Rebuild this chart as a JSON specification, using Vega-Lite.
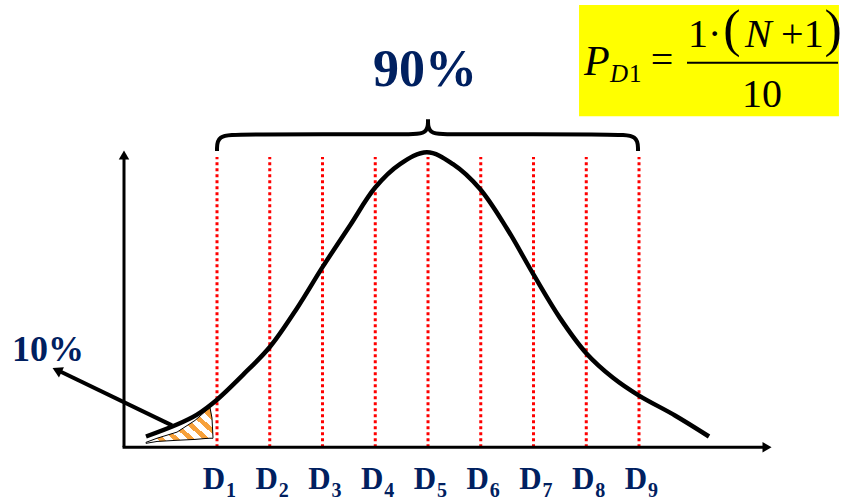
{
  "$schema": "https://vega.github.io/schema/vega-lite/v6.json",
  "width": 842,
  "height": 501,
  "autosize": {"type": "fit", "contains": "padding"},
  "padding": 0,
  "background": "white",
  "config": {"view": {"stroke": null}, "text": {"font": "Liberation Serif, Times New Roman, serif"}},
  "encoding": {
    "x": {"field": "x", "type": "quantitative", "scale": {"domain": [-3.1137, 12.848], "nice": false, "zero": false}, "axis": null},
    "y": {"field": "y", "type": "quantitative", "scale": {"domain": [-0.17347, 1.5306], "nice": false, "zero": false}, "axis": null}
  },
  "layer": [
    {
      "data": {"values": [{"x": 7.863, "x2": 12.79, "y": 1.5136, "y2": 1.1327}]},
      "mark": {"type": "rect", "color": "#FFFF00"},
      "encoding": {"x2": {"field": "x2"}, "y2": {"field": "y2"}}
    },
    {
      "data": {"values": [
        {"x": -0.346, "y": 0.017, "y2": 0.0136},
        {"x": -0.137, "y": 0.031, "y2": 0.020},
        {"x": 0.242, "y": 0.052, "y2": 0.024},
        {"x": 0.583, "y": 0.092, "y2": 0.027},
        {"x": 0.773, "y": 0.122, "y2": 0.030},
        {"x": 0.867, "y": 0.136, "y2": 0.031},
        {"x": 0.905, "y": 0.100, "y2": 0.031},
        {"x": 0.924, "y": 0.034, "y2": 0.031}
      ]},
      "mark": {
        "type": "area",
        "stroke": "black",
        "strokeWidth": 1,
        "fillOpacity": 1,
        "fill": {
          "gradient": "linear", "x1": 0, "y1": 0.8, "x2": 1, "y2": 0.2,
          "stops": [
            {"offset": 0, "color": "#FFFFFF"}, {"offset": 0.09, "color": "#FFFFFF"},
            {"offset": 0.09, "color": "#F7A13B"}, {"offset": 0.167, "color": "#F7A13B"},
            {"offset": 0.167, "color": "#FFFFFF"}, {"offset": 0.257, "color": "#FFFFFF"},
            {"offset": 0.257, "color": "#F7A13B"}, {"offset": 0.333, "color": "#F7A13B"},
            {"offset": 0.333, "color": "#FFFFFF"}, {"offset": 0.423, "color": "#FFFFFF"},
            {"offset": 0.423, "color": "#F7A13B"}, {"offset": 0.5, "color": "#F7A13B"},
            {"offset": 0.5, "color": "#FFFFFF"}, {"offset": 0.59, "color": "#FFFFFF"},
            {"offset": 0.59, "color": "#F7A13B"}, {"offset": 0.667, "color": "#F7A13B"},
            {"offset": 0.667, "color": "#FFFFFF"}, {"offset": 0.757, "color": "#FFFFFF"},
            {"offset": 0.757, "color": "#F7A13B"}, {"offset": 0.833, "color": "#F7A13B"},
            {"offset": 0.833, "color": "#FFFFFF"}, {"offset": 0.923, "color": "#FFFFFF"},
            {"offset": 0.923, "color": "#F7A13B"}, {"offset": 1, "color": "#F7A13B"}
          ]
        }
      },
      "encoding": {"y2": {"field": "y2"}}
    },
    {
      "data": {"values": [
        {"x": 1, "y": 0, "y2": 0.993}, {"x": 2, "y": 0, "y2": 0.993}, {"x": 3, "y": 0, "y2": 0.993},
        {"x": 4, "y": 0, "y2": 0.993}, {"x": 5, "y": 0, "y2": 0.993}, {"x": 6, "y": 0, "y2": 0.993},
        {"x": 7, "y": 0, "y2": 0.993}, {"x": 8, "y": 0, "y2": 0.993}, {"x": 9, "y": 0, "y2": 0.993}
      ]},
      "mark": {"type": "rule", "color": "#FF0000", "strokeWidth": 3, "strokeDash": [3, 3]},
      "encoding": {"y2": {"field": "y2"}}
    },
    {
      "data": {"values": [
        {"x": -0.346, "y": 0.037}, {"x": 0.242, "y": 0.078}, {"x": 0.621, "y": 0.112},
        {"x": 1.0, "y": 0.163}, {"x": 1.493, "y": 0.248}, {"x": 2.005, "y": 0.344},
        {"x": 2.517, "y": 0.476}, {"x": 3.009, "y": 0.619}, {"x": 3.521, "y": 0.759},
        {"x": 3.995, "y": 0.888}, {"x": 4.469, "y": 0.969}, {"x": 4.981, "y": 1.010},
        {"x": 5.474, "y": 0.969}, {"x": 5.986, "y": 0.884}, {"x": 6.498, "y": 0.748},
        {"x": 7.010, "y": 0.588}, {"x": 7.503, "y": 0.442}, {"x": 7.995, "y": 0.323},
        {"x": 8.507, "y": 0.238}, {"x": 9.0, "y": 0.177}, {"x": 9.682, "y": 0.109},
        {"x": 10.327, "y": 0.037}
      ]},
      "mark": {"type": "line", "color": "black", "strokeWidth": 4.5, "interpolate": "catmull-rom"}
    },
    {
      "data": {"values": [
        {"x": -0.763, "y": 0, "x2": -0.763, "y2": 0.99},
        {"x": -0.79, "y": 0, "x2": 11.39, "y2": 0}
      ]},
      "mark": {"type": "rule", "color": "black", "strokeWidth": 3},
      "encoding": {"x2": {"field": "x2"}, "y2": {"field": "y2"}}
    },
    {
      "data": {"values": [{"x": -0.763, "y": 1.0}]},
      "mark": {"type": "point", "shape": "triangle-up", "filled": true, "color": "black", "size": 110, "opacity": 1}
    },
    {
      "data": {"values": [{"x": 11.427, "y": 0}]},
      "mark": {"type": "point", "shape": "triangle-right", "filled": true, "color": "black", "size": 110, "opacity": 1}
    },
    {
      "data": {"values": [
        {"x": 1.0, "y": 1.014, "g": "L", "o": 0}, {"x": 1.0, "y": 1.068, "g": "L", "o": 1},
        {"x": 1.436, "y": 1.071, "g": "L", "o": 2}, {"x": 4.564, "y": 1.071, "g": "L", "o": 3},
        {"x": 5.0, "y": 1.071, "g": "L", "o": 4}, {"x": 5.0, "y": 1.122, "g": "L", "o": 5},
        {"x": 5.0, "y": 1.122, "g": "R", "o": 0}, {"x": 5.0, "y": 1.071, "g": "R", "o": 1},
        {"x": 5.436, "y": 1.071, "g": "R", "o": 2}, {"x": 8.545, "y": 1.071, "g": "R", "o": 3},
        {"x": 8.981, "y": 1.068, "g": "R", "o": 4}, {"x": 8.981, "y": 1.014, "g": "R", "o": 5}
      ]},
      "mark": {"type": "line", "color": "black", "strokeWidth": 4, "interpolate": "basis"},
      "encoding": {"detail": {"field": "g"}, "order": {"field": "o", "type": "quantitative"}}
    },
    {
      "data": {"values": [
        {"x": 0.147, "y": 0.075, "o": 0}, {"x": -2.0, "y": 0.262, "o": 1}
      ]},
      "mark": {"type": "line", "color": "black", "strokeWidth": 4},
      "encoding": {"order": {"field": "o", "type": "quantitative"}}
    },
    {
      "data": {"values": [{"x": -2.033, "y": 0.2636}]},
      "mark": {"type": "point", "shape": "triangle-up", "angle": 296, "filled": true, "color": "black", "size": 130, "opacity": 1}
    },
    {
      "data": {"values": [{"x": 4.943, "y": 1.2347, "t": "90%"}]},
      "mark": {"type": "text", "fontWeight": "bold", "fontSize": 52, "color": "#002060", "align": "center", "baseline": "alphabetic"},
      "encoding": {"text": {"field": "t"}}
    },
    {
      "data": {"values": [{"x": -2.204, "y": 0.296, "t": "10%"}]},
      "mark": {"type": "text", "fontWeight": "bold", "fontSize": 36, "color": "#002060", "align": "center", "baseline": "alphabetic"},
      "encoding": {"text": {"field": "t"}}
    },
    {
      "data": {"values": [
        {"x": 1, "y": -0.143, "t": "D"}, {"x": 2, "y": -0.143, "t": "D"}, {"x": 3, "y": -0.143, "t": "D"},
        {"x": 4, "y": -0.143, "t": "D"}, {"x": 5, "y": -0.143, "t": "D"}, {"x": 6, "y": -0.143, "t": "D"},
        {"x": 7, "y": -0.143, "t": "D"}, {"x": 8, "y": -0.143, "t": "D"}, {"x": 9, "y": -0.143, "t": "D"}
      ]},
      "mark": {"type": "text", "fontWeight": "bold", "fontSize": 31, "color": "#002060", "align": "center", "baseline": "alphabetic", "dx": -3},
      "encoding": {"text": {"field": "t"}}
    },
    {
      "data": {"values": [
        {"x": 1, "y": -0.170, "t": "1"}, {"x": 2, "y": -0.170, "t": "2"}, {"x": 3, "y": -0.170, "t": "3"},
        {"x": 4, "y": -0.170, "t": "4"}, {"x": 5, "y": -0.170, "t": "5"}, {"x": 6, "y": -0.170, "t": "6"},
        {"x": 7, "y": -0.170, "t": "7"}, {"x": 8, "y": -0.170, "t": "8"}, {"x": 9, "y": -0.170, "t": "9"}
      ]},
      "mark": {"type": "text", "fontWeight": "bold", "fontSize": 20, "color": "#002060", "align": "left", "baseline": "alphabetic", "dx": 9},
      "encoding": {"text": {"field": "t"}}
    },
    {
      "data": {"values": [{"x": 7.957, "y": 1.2755, "t": "P"}]},
      "mark": {"type": "text", "fontStyle": "italic", "fontSize": 42, "color": "black", "align": "left", "baseline": "alphabetic"},
      "encoding": {"text": {"field": "t"}}
    },
    {
      "data": {"values": [{"x": 8.45, "y": 1.2483, "t": "D"}]},
      "mark": {"type": "text", "fontStyle": "italic", "fontSize": 25, "color": "black", "align": "left", "baseline": "alphabetic"},
      "encoding": {"text": {"field": "t"}}
    },
    {
      "data": {"values": [{"x": 8.81, "y": 1.2483, "t": "1"}]},
      "mark": {"type": "text", "fontSize": 25, "color": "black", "align": "left", "baseline": "alphabetic"},
      "encoding": {"text": {"field": "t"}}
    },
    {
      "data": {"values": [
        {"x": 9.436, "y": 1.2823, "t": "="},
        {"x": 11.332, "y": 1.1633, "t": "10"}
      ]},
      "mark": {"type": "text", "fontSize": 40, "color": "black", "align": "center", "baseline": "alphabetic"},
      "encoding": {"text": {"field": "t"}}
    },
    {
      "data": {"values": [
        {"x": 9.93, "y": 1.3707, "t": "1·"},
        {"x": 11.693, "y": 1.3707, "t": "+1"}
      ]},
      "mark": {"type": "text", "fontSize": 40, "color": "black", "align": "left", "baseline": "alphabetic"},
      "encoding": {"text": {"field": "t"}}
    },
    {
      "data": {"values": [{"x": 11.26, "y": 1.3707, "t": "N"}]},
      "mark": {"type": "text", "fontStyle": "italic", "fontSize": 40, "color": "black", "align": "center", "baseline": "alphabetic"},
      "encoding": {"text": {"field": "t"}}
    },
    {
      "data": {"values": [
        {"x": 10.76, "y": 1.3748, "t": "("},
        {"x": 12.678, "y": 1.3748, "t": ")"}
      ]},
      "mark": {"type": "text", "fontSize": 52, "color": "black", "align": "center", "baseline": "alphabetic"},
      "encoding": {"text": {"field": "t"}}
    },
    {
      "data": {"values": [{"x": 9.91, "x2": 12.773, "y": 1.3163}]},
      "mark": {"type": "rule", "color": "black", "strokeWidth": 2},
      "encoding": {"x2": {"field": "x2"}}
    }
  ]
}
